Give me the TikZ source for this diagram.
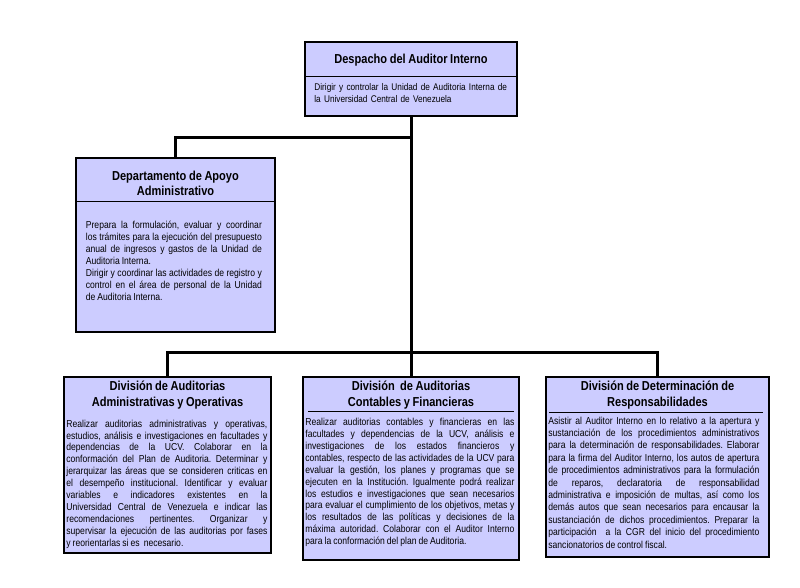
\documentclass[tikz,border=0pt]{standalone}
\usepackage{fontspec}
\setmainfont{Liberation Sans}[FakeStretch=0.85, WordSpace=0.85]
\usetikzlibrary{positioning}
\frenchspacing

\definecolor{unitfill}{RGB}{204,204,255}

\begin{document}
\begin{tikzpicture}[x=1pt, y=-1pt,
  unit/.style={rectangle, draw=black, line width=1.6pt, fill=unitfill, inner sep=0pt},
  head/.style={align=center, inner sep=0pt, font=\fontsize{13}{15.5}\selectfont\bfseries},
  body/.style={align=justify, inner sep=0pt, font=\fontsize{10.1}{11.9}\selectfont},
  sepline/.style={line width=1.1pt},
  link/.style={line width=3pt}
]
  \useasboundingbox (0,0) rectangle (800,588);

  % Despacho
  \node[unit, minimum width=212pt, minimum height=74pt] (despacho) at (411,79) {};
  \node[head, below=13pt of despacho.north] (despachoT) {Despacho del Auditor Interno};
  \draw[sepline] ([yshift=-35pt]despacho.north west) -- ([yshift=-35pt]despacho.north east);
  \node[body, align=left, font=\fontsize{9.7}{11.7}\selectfont, text width=230pt,
        below right=42.3pt and 10pt of despacho.north west] (despachoB)
    {Dirigir y controlar la Unidad de Auditoria Interna de\\la Universidad Central de Venezuela};

  % Departamento de Apoyo
  \node[unit, minimum width=199pt, minimum height=174pt] (apoyo) at (175.5,245) {};
  \node[head, below=13.3pt of apoyo.north] (apoyoT) {Departamento de Apoyo\\Administrativo};
  \draw[sepline] ([yshift=-44pt]apoyo.north west) -- ([yshift=-44pt]apoyo.north east);
  \node[body, text width=176pt, below right=64pt and 10.5pt of apoyo.north west] (apoyoB)
    {Prepara la formulación, evaluar y coordinar\linebreak
     los trámites para la ejecución del presupuesto\linebreak
     anual de ingresos y gastos de la Unidad de\linebreak
     Auditoria Interna.\par
     Dirigir y coordinar las actividades de registro y\linebreak
     control en el área de personal de la Unidad\linebreak
     de Auditoria Interna.};

  % Divisiones
  \node[unit, minimum width=207pt, minimum height=176pt] (divAO) at (167.5,465) {};
  \node[head, below=4.9pt of divAO.north] (divAOT) {División de Auditorias\\Administrativas y Operativas};
  \node[body, text width=201pt, below right=43.4pt and 3pt of divAO.north west] (divAOB)
    {Realizar auditorias administrativas y operativas,\linebreak
     estudios, análisis e investigaciones en facultades y\linebreak
     dependencias de la UCV. Colaborar en la\linebreak
     conformación del Plan de Auditoria. Determinar y\linebreak
     jerarquizar las áreas que se consideren criticas en\linebreak
     el desempeño institucional. Identificar y evaluar\linebreak
     variables e indicadores existentes en la\linebreak
     Universidad Central de Venezuela e indicar las\linebreak
     recomendaciones pertinentes. Organizar y\linebreak
     supervisar la ejecución de las auditorias por fases\linebreak
     y reorientarlas si es\ \ necesario.};

  \node[unit, minimum width=216pt, minimum height=183pt] (divCF) at (411,468.5) {};
  \node[head, below=4.9pt of divCF.north] (divCFT) {División\ \ de Auditorias\\Contables y Financieras};
  \draw[sepline] ([xshift=6pt, yshift=-35pt]divCF.north west) -- ([xshift=-6pt, yshift=-35pt]divCF.north east);
  \node[body, text width=209pt, below right=41.9pt and 3pt of divCF.north west] (divCFB)
    {Realizar auditorias contables y financieras en las\linebreak
     facultades y dependencias de la UCV, análisis e\linebreak
     investigaciones de los estados financieros y\linebreak
     contables, respecto de las actividades de la UCV para\linebreak
     evaluar la gestión, los planes y programas que se\linebreak
     ejecuten en la Institución. Igualmente podrá realizar\linebreak
     los estudios e investigaciones que sean necesarios\linebreak
     para evaluar el cumplimiento de los objetivos, metas y\linebreak
     los resultados de las políticas y decisiones de la\linebreak
     máxima autoridad. Colaborar con el Auditor Interno\linebreak
     para la conformación del plan de Auditoria.};

  \node[unit, minimum width=223pt, minimum height=180pt] (divDR) at (657.5,467) {};
  \node[head, below=4.9pt of divDR.north] (divDRT) {División de Determinación de\\Responsabilidades};
  \draw[sepline] ([xshift=4pt, yshift=-36pt]divDR.north west) -- ([xshift=-7pt, yshift=-36pt]divDR.north east);
  \node[body, font=\fontsize{10.1}{12.4}\selectfont, text width=211pt, below right=40.4pt and 3pt of divDR.north west] (divDRB)
    {Asistir al Auditor Interno en lo relativo a la apertura y\linebreak
     sustanciación de los procedimientos administrativos\linebreak
     para la determinación de responsabilidades. Elaborar\linebreak
     para la firma del Auditor Interno, los autos de apertura\linebreak
     de procedimientos administrativos para la formulación\linebreak
     de reparos, declaratoria de responsabilidad\linebreak
     administrativa e imposición de multas, así como los\linebreak
     demás autos que sean necesarios para encausar la\linebreak
     sustanciación de dichos procedimientos. Preparar la\linebreak
     participación\ \ a la CGR del inicio del procedimiento\linebreak
     sancionatorios de control fiscal.};

  % lineas
  \coordinate (fork) at (411,138);
  \coordinate (bus) at (411,352);
  \draw[link] (despacho) -- (bus);
  \draw[link] (fork) -| (apoyo);
  \draw[link] (divAO) |- (bus) -| (divDR);
  \draw[link] (bus) -- (divCF);
\end{tikzpicture}
\end{document}
